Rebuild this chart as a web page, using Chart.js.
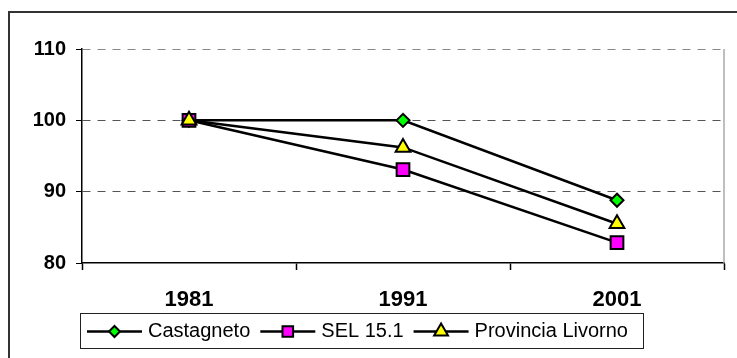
<!DOCTYPE html>
<html>
<head>
<meta charset="utf-8">
<script src="https://cdn.jsdelivr.net/npm/chart.js@4/dist/chart.umd.min.js"></script>
<style>
  html, body { margin: 0; padding: 0; background: #fff; }
  #wrap { width: 737px; height: 358px; }
</style>
</head>
<body>
<div id="wrap"><canvas id="lineChart" width="737" height="358"></canvas></div>
<script>
const years = ['1981', '1991', '2001'];
const castagneto = [100, 100, 88.8];
const sel151 = [100, 93.1, 82.85];
const provinciaLivorno = [100, 96.2, 85.5];
const yTicks = [80, 90, 100, 110];

const FONT = '"Liberation Sans", Arial, sans-serif';

// frame round the whole picture (runs off the right and bottom edges)
const framePlugin = {
    id: 'frame',
    beforeDraw(chart) {
        const ctx = chart.ctx;
        ctx.save();
        ctx.strokeStyle = '#333';
        ctx.lineWidth = 2;
        ctx.strokeRect(9, 12, 800, 400);
        ctx.restore();
    },
    afterDraw(chart) {
        const ctx = chart.ctx;
        const area = chart.chartArea;
        ctx.save();
        ctx.strokeStyle = '#aaa';
        ctx.lineWidth = 1.5;
        ctx.beginPath();
        ctx.moveTo(area.right, area.top);
        ctx.lineTo(area.right, area.bottom);
        ctx.stroke();
        ctx.restore();
    }
};

// legend with line + marker samples, in a box under the axis
const lineLegend = {
    id: 'lineLegend',
    afterDraw(chart) {
        const ctx = chart.ctx;
        const boxX = 80, boxY = 313, boxW = 563, boxH = 35;
        ctx.save();
        ctx.fillStyle = '#fff';
        ctx.fillRect(boxX, boxY, boxW, boxH);
        ctx.strokeStyle = '#222';
        ctx.lineWidth = 1;
        ctx.strokeRect(boxX + 0.5, boxY + 0.5, boxW, boxH);

        ctx.font = '20px ' + FONT;
        ctx.textBaseline = 'middle';
        const cy = boxY + boxH / 2 + 1;
        let x = boxX + 7;
        chart.data.datasets.forEach(ds => {
            ctx.strokeStyle = '#000';
            ctx.lineWidth = 2.5;
            ctx.beginPath();
            ctx.moveTo(x, cy);
            ctx.lineTo(x + 55, cy);
            ctx.stroke();
            ctx.fillStyle = ds.pointBackgroundColor;
            ctx.strokeStyle = '#000';
            ctx.lineWidth = 2;
            Chart.helpers.drawPoint(ctx, {
                pointStyle: ds.pointStyle,
                radius: ds.legendRadius,
                rotation: 0,
                borderWidth: 2
            }, x + 27.5, cy);
            ctx.fillStyle = '#000';
            ctx.fillText(ds.label, x + 61, cy);
            x += 61 + ctx.measureText(ds.label).width + 10;
        });
        ctx.restore();
    }
};

new Chart(document.getElementById('lineChart').getContext('2d'), {
    type: 'line',
    data: {
        labels: years,
        datasets: [{
            label: 'Castagneto',
            data: castagneto,
            pointStyle: 'rectRot',
            pointBackgroundColor: '#00ff00',
            pointRadius: 6.5,
            legendRadius: 5.5,
            order: 2
        }, {
            label: 'SEL 15.1',
            data: sel151,
            pointStyle: 'rect',
            pointBackgroundColor: '#ff00ff',
            pointRadius: 9,
            legendRadius: 7.5,
            order: 1
        }, {
            label: 'Provincia Livorno',
            data: provinciaLivorno,
            pointStyle: 'triangle',
            pointBackgroundColor: '#ffff00',
            pointRadius: 8.5,
            legendRadius: 8,
            order: 0
        }].map(ds => Object.assign({
            borderColor: '#000',
            borderWidth: 2.5,
            pointBorderColor: '#000',
            pointBorderWidth: 2,
            pointHoverRadius: ds.pointRadius,
            tension: 0,
            fill: false
        }, ds))
    },
    options: {
        responsive: false,
        animation: false,
        layout: { padding: { top: 49, right: 13, left: 0, bottom: 0 } },
        plugins: {
            legend: { display: false },
            tooltip: { enabled: false },
            title: { display: false }
        },
        scales: {
            x: {
                offset: true,
                grid: {
                    offset: true,
                    drawOnChartArea: false,
                    drawTicks: true,
                    tickLength: 7,
                    tickColor: '#000',
                    tickWidth: 1.5
                },
                border: { color: '#000', width: 1.5, z: 1 },
                ticks: {
                    color: '#000',
                    padding: 17,
                    font: { family: FONT, size: 22, weight: 'bold' }
                },
                afterFit(scale) { scale.height = 95; }
            },
            y: {
                min: 80,
                max: 110,
                afterBuildTicks(scale) {
                    scale.ticks = yTicks.map(v => ({ value: v }));
                },
                grid: {
                    color: c => c.tick && c.tick.value === 80 ? 'rgba(0,0,0,0)'
                        : (c.tick && c.tick.value === 110 ? '#888' : '#555'),
                    lineWidth: 1,
                    tickBorderDash: [],
                    tickColor: '#000',
                    tickLength: 6
                },
                border: { color: '#000', width: 1.5, dash: [8, 7] },
                ticks: {
                    color: '#000',
                    padding: 10,
                    font: { family: FONT, size: 20, weight: 'bold' }
                },
                afterFit(scale) { scale.width = 82; }
            }
        }
    },
    plugins: [framePlugin, lineLegend]
});
</script>
</body>
</html>
